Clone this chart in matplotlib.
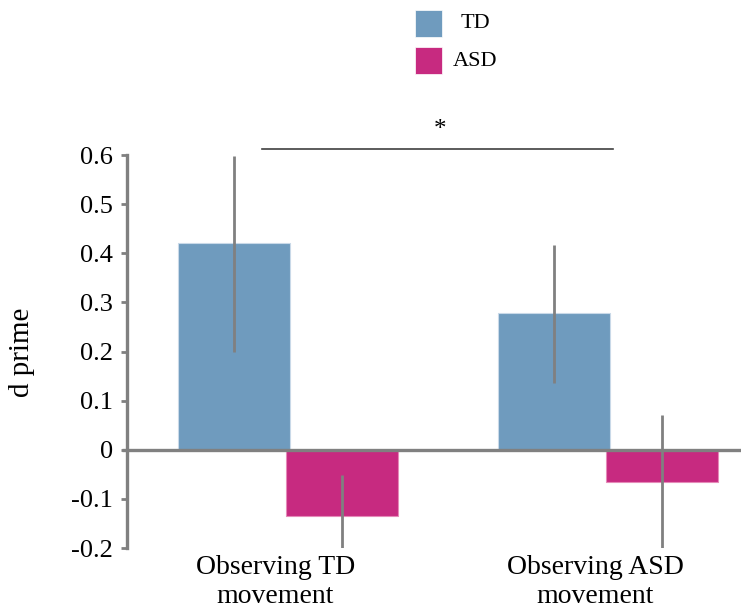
import numpy as np
import matplotlib
matplotlib.use("Agg")
import matplotlib.pyplot as plt
from matplotlib.patches import Rectangle

plt.rcParams['font.family'] = ['Liberation Serif', 'DejaVu Serif']

# d prime per observed movement type, by group
conditions = ["Observing TD\nmovement", "Observing ASD\nmovement"]
groups = ["TD", "ASD"]
td_means = [0.42, 0.278]
asd_means = [-0.135, -0.065]
# error bar ends (lower, upper)
td_err_low = [0.20, 0.135]
td_err_high = [0.597, 0.417]
asd_err_low = [-0.2, -0.2]
asd_err_high = [-0.052, 0.07]
sig_label = "*"

td_color = "#6f9bbe"
asd_color = "#c72a80"
axis_gray = "#808080"

fig = plt.figure(figsize=(7.41, 6.10), dpi=100)
ax = fig.add_axes([0.1714, 0.1016, 0.8286, 0.6443])

x = np.arange(len(conditions))
width = 0.35
offset = 0.168

td_mean = np.array(td_means)
asd_mean = np.array(asd_means)
td_yerr = [td_mean - np.array(td_err_low), np.array(td_err_high) - td_mean]
asd_yerr = [asd_mean - np.array(asd_err_low), np.array(asd_err_high) - asd_mean]

ax.bar(x - offset, td_mean, width, color=td_color, edgecolor="#c9d9e8",
       linewidth=0.8, zorder=2, label=groups[0])
ax.bar(x + offset, asd_mean, width, color=asd_color, edgecolor="#e58ab8",
       linewidth=0.8, zorder=2, label=groups[1])
ax.errorbar(x - offset, td_mean, yerr=td_yerr, fmt="none", ecolor=axis_gray,
            elinewidth=2.0, capsize=0, zorder=4)
ax.errorbar(x + offset, asd_mean, yerr=asd_yerr, fmt="none", ecolor=axis_gray,
            elinewidth=2.0, capsize=0, zorder=4)

ax.set_xlim(-0.503, 1.416)
ax.set_ylim(-0.2, 0.6)

# zero line running through the plot, slightly past the y axis
ax.plot([-0.52, 1.416], [0, 0], color=axis_gray, lw=2.4, zorder=3,
        clip_on=False, solid_capstyle="butt")

for side in ["top", "right", "bottom"]:
    ax.spines[side].set_visible(False)
ax.spines["left"].set_color(axis_gray)
ax.spines["left"].set_linewidth(2.4)

yticks = np.round(np.arange(-0.2, 0.61, 0.1), 1)
ax.set_yticks(yticks)
ax.set_yticklabels(["0" if v == 0 else f"{v:g}" for v in yticks])
ax.tick_params(axis="y", direction="out", length=4, width=2, color=axis_gray,
               labelsize=19, pad=6)

ax.set_xticks(x - 0.04)
ax.set_xticklabels(conditions, fontsize=20, linespacing=1.2)
ax.tick_params(axis="x", length=0, pad=5)

fig.text(22 / 741, 1 - 352 / 610, "d prime", fontsize=21, rotation=90,
         ha="center", va="center")

# significance bracket between the two TD bars
ax.plot([-0.081, 1.016], [0.612, 0.612], color="#404040", lw=1.2,
        clip_on=False)
ax.text(0.475, 0.638, sig_label, fontsize=18, ha="center", va="baseline")

# legend swatches in figure pixels
W, H = 741, 610
for i, (name, col) in enumerate(zip(groups, [td_color, asd_color])):
    top = 10 + i * 37
    fig.add_artist(Rectangle((415 / W, 1 - (top + 27) / H), 27 / W, 27 / H,
                             transform=fig.transFigure, facecolor=col,
                             edgecolor="white", linewidth=0.5))
    fig.text(475 / W, 1 - (top + 14) / H, name, fontsize=16,
             ha="center", va="center")

fig.savefig("out.png", dpi=100)
